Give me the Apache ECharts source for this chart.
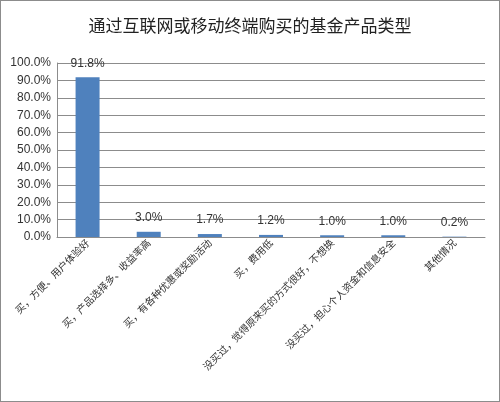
<!DOCTYPE html>
<html><head><meta charset="utf-8">
<script src="https://cdn.jsdelivr.net/npm/echarts@6/dist/echarts.min.js"></script>
<style>html,body{margin:0;padding:0;background:#fff}#c{width:500px;height:402px;box-sizing:border-box;border:1px solid #8c8c8c}</style>
</head><body><div id="c"></div>
<script>
const title = '通过互联网或移动终端购买的基金产品类型';
const categories = ['买，方便、用户体验好','买，产品选择多、收益率高','买，有各种优惠或奖励活动','买，费用低','没买过，觉得原来买的方式很好，不想换','没买过，担心个人资金和信息安全','其他情况'];
const values = [91.8, 3.0, 1.7, 1.2, 1.0, 1.0, 0.2];
const chart = echarts.init(document.getElementById('c'));
chart.setOption({
  animation:false,
  title:{text:title,left:'center',top:11,textStyle:{fontFamily:'Noto Sans CJK SC',fontSize:17,fontWeight:'normal',color:'#222'}},
  grid:{left:56,right:14,top:62,bottom:164},
  xAxis:{type:'category',data:categories,
    axisLine:{lineStyle:{color:'#8c8c8c'}},axisTick:{show:false},
    axisLabel:{rotate:45,interval:0,fontSize:10,color:'#333',fontFamily:'Noto Sans CJK SC',margin:4,padding:[6,0,0,0]}},
  yAxis:{type:'value',min:0,max:100,interval:10,
    axisLine:{show:true,lineStyle:{color:'#8c8c8c'}},
    axisLabel:{formatter:v=>v.toFixed(1)+'%',fontSize:12,color:'#333',fontFamily:'Liberation Sans',margin:6},
    splitLine:{lineStyle:{color:'#8c8c8c'}}},
  series:[{type:'bar',data:values,barWidth:24,itemStyle:{color:'#4f81bd'},
    label:{show:true,position:'top',formatter:p=>p.value.toFixed(1)+'%',fontSize:12,color:'#333',fontFamily:'Liberation Sans',distance:8}}]
});
</script></body></html>
